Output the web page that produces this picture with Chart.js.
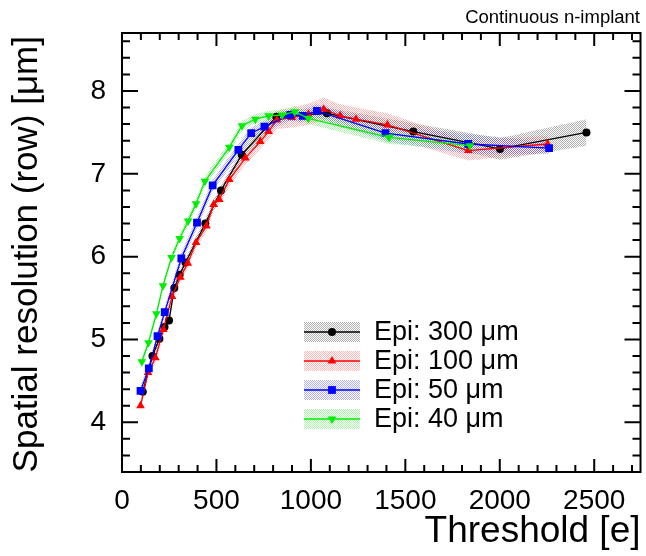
<!DOCTYPE html>
<html>
<head>
<meta charset="utf-8">
<script src="https://cdn.jsdelivr.net/npm/chart.js@4.4.0/dist/chart.umd.min.js"></script>
<style>
  html, body { margin: 0; padding: 0; background: #fff; }
  #wrap { width: 646px; height: 556px; }
</style>
</head>
<body>
<div id="wrap"><canvas id="chart" width="646" height="556"></canvas></div>
<script>
// ---- data ----
const thr300 = [110, 161, 198, 225, 249, 277, 305, 336, 441, 524, 634, 817, 1085, 1542, 2001, 2459];
const res300 = [4.37, 4.80, 5.01, 5.15, 5.23, 5.62, 5.78, 5.93, 6.40, 6.80, 7.23, 7.69, 7.73, 7.51, 7.30, 7.50];
const err300 = [0.05, 0.05, 0.05, 0.05, 0.05, 0.05, 0.05, 0.05, 0.06, 0.06, 0.06, 0.06, 0.07, 0.10, 0.13, 0.16];

const thr100 = [98, 138, 177, 219, 265, 309, 348, 392, 447, 485, 515, 568, 653, 732, 776, 820, 900, 987, 1068, 1155, 1239, 1405, 1833, 2253];
const res100 = [4.20, 4.60, 4.78, 5.12, 5.52, 5.75, 5.92, 6.17, 6.37, 6.63, 6.69, 6.93, 7.19, 7.39, 7.51, 7.65, 7.68, 7.72, 7.78, 7.70, 7.66, 7.59, 7.28, 7.36];
const err100 = [0.06, 0.06, 0.06, 0.06, 0.06, 0.06, 0.06, 0.07, 0.07, 0.07, 0.07, 0.08, 0.08, 0.09, 0.10, 0.11, 0.12, 0.13, 0.14, 0.14, 0.14, 0.14, 0.12, 0.10];

const thr50 = [98, 142, 188, 226, 314, 397, 480, 616, 684, 754, 891, 957, 1032, 1395, 1833, 2261];
const res50 = [4.38, 4.65, 5.04, 5.33, 5.98, 6.41, 6.86, 7.29, 7.49, 7.57, 7.71, 7.70, 7.76, 7.49, 7.36, 7.31];
const err50 = [0.06, 0.06, 0.06, 0.06, 0.07, 0.07, 0.07, 0.07, 0.07, 0.07, 0.07, 0.08, 0.08, 0.10, 0.12, 0.07];

const thr40 = [105, 140, 182, 217, 262, 305, 350, 392, 439, 568, 635, 706, 776, 848, 914, 986, 1414, 1842];
const res40 = [4.73, 4.96, 5.31, 5.65, 5.99, 6.22, 6.43, 6.64, 6.91, 7.32, 7.58, 7.66, 7.70, 7.71, 7.75, 7.67, 7.44, 7.34];
const err40 = [0.05, 0.05, 0.05, 0.05, 0.05, 0.05, 0.06, 0.06, 0.06, 0.06, 0.06, 0.06, 0.06, 0.07, 0.07, 0.07, 0.08, 0.06];

const seriesLabels = ['Epi: 300 \u03bcm', 'Epi: 100 \u03bcm', 'Epi: 50 \u03bcm', 'Epi: 40 \u03bcm'];
const xTicks = [0, 500, 1000, 1500, 2000, 2500];
const yTicks = [4, 5, 6, 7, 8];
const X_MIN = 0, X_MAX = 2745;
const Y_MIN = 3.4, Y_MAX = 8.7;

const FONT = '"Liberation Sans", Arial, Helvetica, sans-serif';

// ROOT-like stipple fill for the error bands
function stipple(color) {
  const c = document.createElement('canvas');
  c.width = 2; c.height = 2;
  const g = c.getContext('2d');
  g.fillStyle = color;
  g.fillRect(0, 0, 1, 1);
  g.fillRect(1, 1, 1, 1);
  return g.createPattern(c, 'repeat');
}

const styles = [
  { line: '#000000', band: stipple('rgba(110,110,110,0.55)'), pointStyle: 'circle', radius: 4, rotation: 0 },
  { line: '#ff0000', band: stipple('rgba(255,70,70,0.40)'), pointStyle: 'triangle', radius: 5, rotation: 0 },
  { line: '#0000ff', band: stipple('rgba(80,80,255,0.45)'), pointStyle: 'rect', radius: 5.5, rotation: 0 },
  { line: '#00ee00', band: stipple('rgba(40,230,40,0.40)'), pointStyle: 'triangle', radius: 5, rotation: 180 }
];

const allSeries = [
  [thr300, res300, err300],
  [thr100, res100, err100],
  [thr50, res50, err50],
  [thr40, res40, err40]
];

const datasets = [];
allSeries.forEach(([xs, ys, es], i) => {
  const st = styles[i];
  // band: upper edge then lower edge filled to it
  datasets.push({
    data: xs.map((x, k) => ({ x, y: ys[k] + es[k] })),
    borderWidth: 0, pointRadius: 0, fill: false, order: 20 - i, showLine: true,
    borderColor: 'rgba(0,0,0,0)'
  });
  datasets.push({
    data: xs.map((x, k) => ({ x, y: ys[k] - es[k] })),
    borderWidth: 0, pointRadius: 0, fill: '-1', backgroundColor: st.band, order: 20 - i,
    showLine: true, borderColor: 'rgba(0,0,0,0)'
  });
});
allSeries.forEach(([xs, ys], i) => {
  const st = styles[i];
  datasets.push({
    label: seriesLabels[i],
    data: xs.map((x, k) => ({ x, y: ys[k] })),
    borderColor: st.line,
    backgroundColor: st.line,
    borderWidth: 1.3,
    pointStyle: st.pointStyle,
    pointRadius: st.radius,
    pointRotation: st.rotation,
    pointBorderWidth: 0,
    pointBackgroundColor: st.line,
    showLine: true,
    fill: false,
    tension: 0,
    order: 5 - i
  });
});

function drawMarker(ctx, st, x, y) {
  if (Chart.helpers && Chart.helpers.drawPoint) {
    ctx.fillStyle = st.line;
    ctx.strokeStyle = st.line;
    ctx.lineWidth = 0;
    Chart.helpers.drawPoint(ctx, { pointStyle: st.pointStyle, radius: st.radius, rotation: st.rotation, borderWidth: 0 }, x, y);
  }
}

// frame, ticks, titles and legend drawn in ROOT style
const rootFrame = {
  id: 'rootFrame',
  afterDraw(chart) {
    const { ctx, chartArea: a, scales: { x, y } } = chart;
    ctx.save();
    ctx.strokeStyle = '#000';
    ctx.lineWidth = 2;
    ctx.strokeRect(a.left, a.top, a.right - a.left, a.bottom - a.top);

    ctx.beginPath();
    for (let k = 0; k * 100 <= X_MAX; k++) {
      const px = x.getPixelForValue(k * 100);
      const len = k % 5 === 0 ? 13 : 7;
      ctx.moveTo(px, a.bottom); ctx.lineTo(px, a.bottom - len);
      ctx.moveTo(px, a.top); ctx.lineTo(px, a.top + len);
    }
    for (let k = Math.ceil(Y_MIN * 5 - 1e-9); k <= Math.floor(Y_MAX * 5 + 1e-9); k++) {
      const py = y.getPixelForValue(k / 5);
      const len = k % 5 === 0 ? 16 : 8;
      ctx.moveTo(a.left, py); ctx.lineTo(a.left + len, py);
      ctx.moveTo(a.right, py); ctx.lineTo(a.right - len, py);
    }
    ctx.stroke();

    // titles
    ctx.fillStyle = '#000';
    ctx.font = '37px ' + FONT;
    ctx.textAlign = 'right';
    ctx.textBaseline = 'alphabetic';
    ctx.fillText('Threshold [e]', a.right, 542);
    ctx.font = '35px ' + FONT;
    ctx.save();
    ctx.translate(37, 36);
    ctx.rotate(-Math.PI / 2);
    ctx.fillText('Spatial resolution (row) [\u03bcm]', 0, 0);
    ctx.restore();

    ctx.font = '18.5px ' + FONT;
    ctx.fillText('Continuous n-implant', 640, 23);

    // legend
    const rows = [332, 361, 390, 419];
    ctx.textAlign = 'left';
    ctx.textBaseline = 'middle';
    ctx.font = '27px ' + FONT;
    styles.forEach((st, i) => {
      const cy = rows[i];
      ctx.fillStyle = st.band;
      ctx.fillRect(304, cy - 10, 56, 20);
      ctx.strokeStyle = st.line;
      ctx.lineWidth = 1.3;
      ctx.beginPath();
      ctx.moveTo(304, cy); ctx.lineTo(360, cy);
      ctx.stroke();
      drawMarker(ctx, st, 332, cy);
      ctx.fillStyle = '#000';
      ctx.fillText(seriesLabels[i], 374, cy + 1);
    });
    ctx.restore();
  }
};

new Chart(document.getElementById('chart').getContext('2d'), {
  type: 'scatter',
  data: { datasets },
  options: {
    responsive: false,
    animation: false,
    devicePixelRatio: 1,
    layout: { padding: { top: 33, right: 5, left: 0, bottom: 0 } },
    plugins: { legend: { display: false }, tooltip: { enabled: false } },
    scales: {
      x: {
        type: 'linear', min: X_MIN, max: X_MAX,
        grid: { display: false, drawTicks: false },
        border: { display: false },
        afterBuildTicks: s => { s.ticks = xTicks.map(v => ({ value: v })); },
        afterFit: s => { s.height = 84; },
        ticks: { color: '#000', font: { family: FONT, size: 28 }, padding: 12, maxRotation: 0, autoSkip: false,
                 callback: v => String(v) }
      },
      y: {
        type: 'linear', min: Y_MIN, max: Y_MAX,
        grid: { display: false, drawTicks: false },
        border: { display: false },
        afterBuildTicks: s => { s.ticks = yTicks.map(v => ({ value: v })); },
        afterFit: s => { s.width = 122; },
        ticks: { color: '#000', font: { family: FONT, size: 28 }, padding: 16, autoSkip: false,
                 callback: v => String(v) }
      }
    }
  },
  plugins: [rootFrame]
});
</script>
</body>
</html>
